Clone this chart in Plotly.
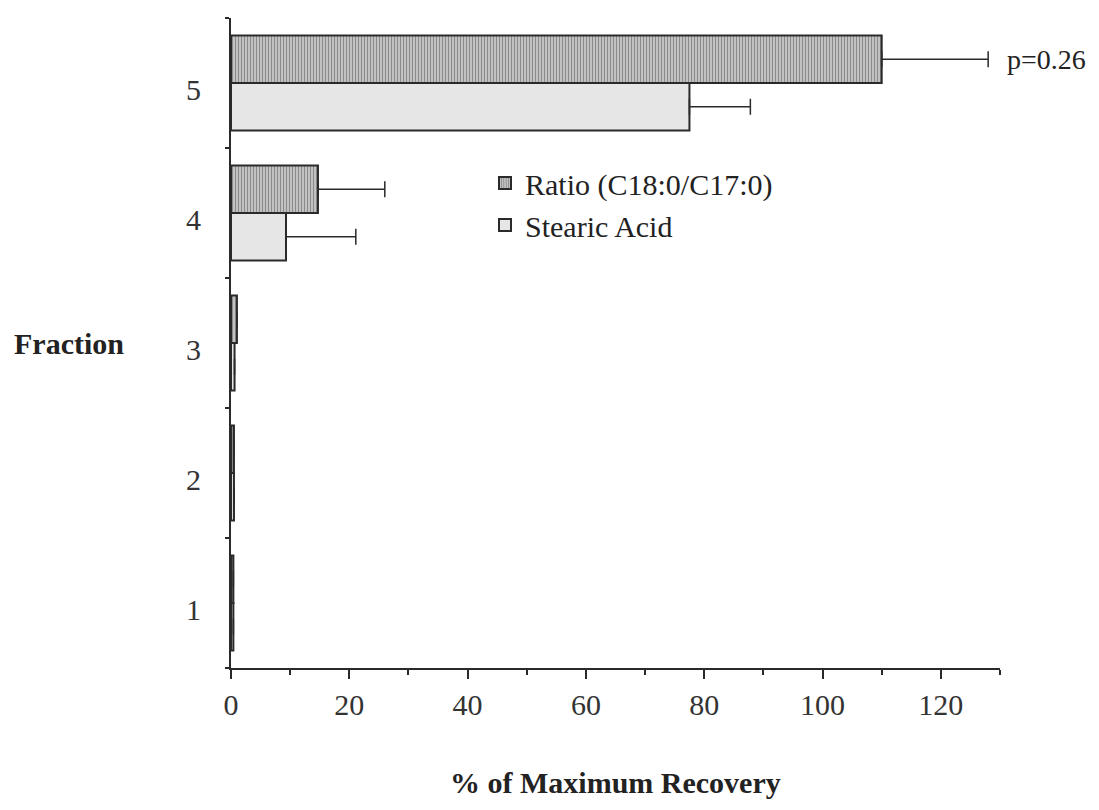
import plotly.graph_objects as go

fractions = [1, 2, 3, 4, 5]
ratio_vals = [0.4, 0.5, 1.0, 14.7, 110.0]
ratio_err = [0.0, 0.0, 0.0, 11.3, 18.0]
stearic_vals = [0.4, 0.5, 0.6, 9.3, 77.5]
stearic_err = [0.0, 0.0, 0.0, 11.8, 10.3]
x_ticks = [0, 20, 40, 60, 80, 100, 120]
x_minor = [10, 30, 50, 70, 90, 110, 130]

font_family = "Liberation Serif, Times New Roman, serif"
line_col = "#2a2a2a"
FS = 30

OFF = 8  # page body margin
W, H = 1083, 794
L, T = 231 - OFF, 18 - OFF
R = W - (1000 - OFF)
B = H - (668 - OFF)
pw, ph = W - L - R, H - T - B


def px_to_paper(px, py):
    # screen pixel coords -> paper coords
    return (px - OFF - L) / pw, (H - B - (py - OFF)) / ph


fig = go.Figure()
fig.add_trace(go.Bar(
    y=fractions, x=stearic_vals, orientation="h", name="Stearic Acid",
    marker=dict(color="#e6e6e6", line=dict(color=line_col, width=2)),
    error_x=dict(type="data", array=stearic_err, arrayminus=[0] * 5, symmetric=False,
                 color=line_col, thickness=1.5, width=8),
    legendrank=2,
))
fig.add_trace(go.Bar(
    y=fractions, x=ratio_vals, orientation="h", name="Ratio (C18:0/C17:0)",
    marker=dict(color="#b0b0b0", line=dict(color=line_col, width=2),
                pattern=dict(shape="|", size=3, solidity=0.45, fgcolor="#4a4a4a", bgcolor="#cccccc")),
    error_x=dict(type="data", array=ratio_err, arrayminus=[0] * 5, symmetric=False,
                 color=line_col, thickness=1.5, width=8),
    legendrank=1,
))

fig.add_annotation(x=130, y=5.25, xref="x", yref="y", text="p=0.26", showarrow=False,
                   xanchor="left", yanchor="middle", xshift=5, yshift=-9,
                   font=dict(family=font_family, size=28, color="#222"))

fx, fy = px_to_paper(12, 344)
fig.add_annotation(x=fx, y=fy, xref="paper", yref="paper", text="<b>Fraction</b>",
                   showarrow=False, xanchor="left", yanchor="middle",
                   font=dict(family=font_family, size=FS, color="#222"))
tx, ty = px_to_paper(615, 801)
fig.add_annotation(x=tx, y=ty, xref="paper", yref="paper", text="<b>% of Maximum Recovery</b>",
                   showarrow=False, xanchor="center", yanchor="bottom",
                   font=dict(family=font_family, size=FS, color="#222"))

lx, ly = px_to_paper(485, 157)
fig.update_layout(
    width=W, height=H,
    margin=dict(l=L, r=R, t=T, b=B, autoexpand=False),
    paper_bgcolor="white", plot_bgcolor="white",
    barmode="group", bargap=0.27, bargroupgap=0,
    font=dict(family=font_family, size=FS, color="#222"),
    showlegend=True,
    legend=dict(x=lx, y=ly, xanchor="left", yanchor="top",
                font=dict(family=font_family, size=FS, color="#222"),
                bgcolor="rgba(0,0,0,0)", tracegroupgap=0),
    xaxis=dict(range=[0, 130], tickvals=x_ticks, ticks="outside", ticklen=9, tickwidth=1.5,
               tickcolor=line_col, showline=True, linecolor=line_col, linewidth=2,
               showgrid=False, zeroline=False, automargin=False,
               minor=dict(tickvals=x_minor, ticks="outside", ticklen=5,
                          tickwidth=1.5, tickcolor=line_col, showgrid=False),
               tickfont=dict(family=font_family, size=FS, color="#333")),
    yaxis=dict(range=[0.5, 5.5], tickvals=fractions, ticktext=[str(f) for f in fractions],
               ticks="", ticklen=0, showline=True, linecolor=line_col, linewidth=2,
               showgrid=False, zeroline=False, ticklabelstandoff=22, automargin=False,
               ticklabelshift=6,
               minor=dict(tickvals=[0.5, 1.5, 2.5, 3.5, 4.5, 5.5], ticks="outside", ticklen=4,
                          tickwidth=1.5, tickcolor=line_col, showgrid=False),
               tickfont=dict(family=font_family, size=FS, color="#333")),
)

fig.write_html("out.html")
